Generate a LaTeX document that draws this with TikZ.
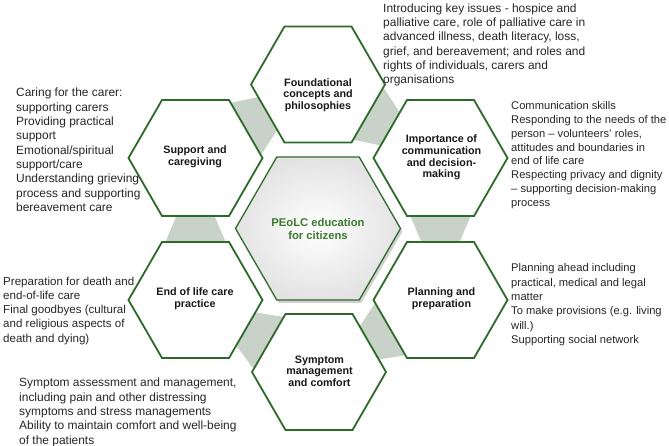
\documentclass[tikz,border=0pt]{standalone}
\usepackage{fontspec}
\setmainfont{Liberation Sans}
\usetikzlibrary{shapes.geometric,calc,backgrounds,shadows}
\definecolor{hexgreen}{HTML}{2E6B2A}
\definecolor{conngray}{HTML}{C8D2C8}
\definecolor{txtgray}{HTML}{262626}
\definecolor{ctrgreen}{HTML}{3C7A2E}
\begin{document}
\begin{tikzpicture}[x=1bp,y=1bp,
  hexbox/.style={regular polygon, regular polygon sides=6, minimum size=134bp, inner sep=0pt, draw=hexgreen, line width=1.8bp, fill=white},
  hexlabel/.style={align=center, font=\fontsize{10.8}{11.7}\selectfont\bfseries, text=black!90, inner sep=0pt},
  sidetext/.style={align=left, anchor=north west, font=\fontsize{12}{14.4}\selectfont, text=txtgray, inner sep=0pt},
  smalltext/.style={sidetext, font=\fontsize{11.2}{13.8}\selectfont},
  connshape/.style={fill=conngray}]
\useasboundingbox (0,0) rectangle (669,-446);

% outer hexagons
\node[hexbox] (T)  at (318,-84.5) {};
\node[hexbox] (UR) at (440.5,-158) {};
\node[hexbox] (LR) at (440.5,-300) {};
\node[hexbox] (B)  at (319,-372) {};
\node[hexbox] (LL) at (195.5,-300) {};
\node[hexbox] (UL) at (195.5,-158) {};

% central hexagon
\node[regular polygon, regular polygon sides=6, minimum size=165bp, inner sep=0pt,
      draw=hexgreen, line width=1.3bp, inner color=white, outer color=black!11,
      drop shadow={shadow xshift=2bp, shadow yshift=-3bp, fill=black, opacity=0.18}] (C) at (318,-228.5) {};

% connectors between neighbouring hexagons
\begin{scope}[on background layer]
\foreach \g/\A/\Bn in {60/T/UR, 0/UR/LR, -60/LR/B, -120/B/LL, 180/LL/UL, 120/UL/T}{
  \fill[connshape]
    ($(\A)+0.95*(\g-60:67)+0.05*(\g-120:67)$) --
    ($(\A)+0.05*(\g-60:67)+0.95*(\g-120:67)$) --
    ($(\Bn)+0.215*(\g+60:67)+0.785*(\g+120:67)$) --
    ($(\Bn)+0.785*(\g+60:67)+0.215*(\g+120:67)$) -- cycle;
}
\end{scope}

% hexagon labels
\node[hexlabel] (tT)  at (318,-95) {Foundational\\concepts and\\philosophies};
\node[hexlabel] (tUR) at (441.5,-157.5) {Importance of\\communication\\and decision-\\making};
\node[hexlabel] (tLR) at (441.5,-299) {Planning and\\preparation};
\node[hexlabel] (tB)  at (319.5,-371) {Symptom\\management\\and comfort};
\node[hexlabel] (tLL) at (195,-299) {End of life care\\practice};
\node[hexlabel] (tUL) at (195,-157) {Support and\\caregiving};
\node[align=center, font=\fontsize{11.3}{12.5}\selectfont\bfseries, text=ctrgreen, inner sep=0pt] (tC) at (318,-229) {PEoLC education\\for citizens};

% side texts
\node[sidetext] (s1) at (383,-3.3) {Introducing key issues - hospice and\\palliative care, role of palliative care in\\advanced illness, death literacy, loss,\\grief, and bereavement; and roles and\\rights of individuals, carers and\\organisations};
\node[smalltext] (s2) at (511,-101.6) {Communication skills\\Responding to the needs of the\\person – volunteers' roles,\\attitudes and boundaries in\\end of life care\\Respecting privacy and dignity\\– supporting decision-making\\process};
\node[sidetext] (s3) at (16,-88) {Caring for the carer:\\supporting carers\\Providing practical\\support\\Emotional/spiritual\\support/care\\Understanding grieving\\process and supporting\\bereavement care};
\node[sidetext, font=\fontsize{11.6}{14.3}\selectfont] (s4) at (3,-276.5) {Preparation for death and\\end-of-life care\\Final goodbyes (cultural\\and religious aspects of\\death and dying)};
\node[smalltext, font=\fontsize{11.2}{14.4}\selectfont] (s5) at (511,-263.6) {Planning ahead including\\practical, medical and legal\\matter\\To make provisions (e.g. living\\will.)\\Supporting social network};
\node[sidetext] (s6) at (19,-378) {Symptom assessment and management,\\including pain and other distressing\\symptoms and stress managements\\Ability to maintain comfort and well-being\\of the patients};
\end{tikzpicture}
\end{document}
